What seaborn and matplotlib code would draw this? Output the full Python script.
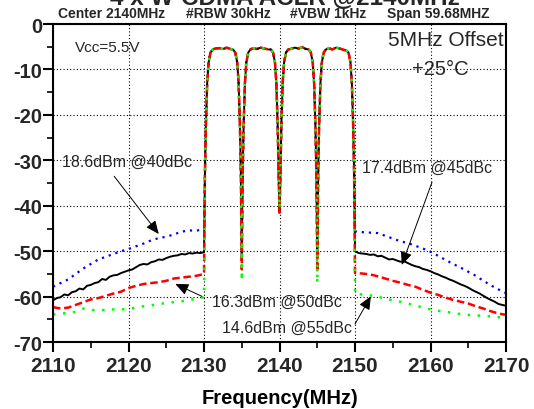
import numpy as np
import pandas as pd
import seaborn as sns
import matplotlib.pyplot as plt
from matplotlib.ticker import MultipleLocator

# lower adjacent band (MHz) and levels (dB)
left_freq = [2110, 2111, 2112, 2113, 2114, 2115, 2116, 2117, 2118, 2119, 2120,
             2121, 2122, 2123, 2124, 2125, 2126, 2127, 2128, 2129, 2130]
right_freq = [2150, 2151, 2152, 2153, 2154, 2155, 2156, 2157, 2158, 2159, 2160,
              2161, 2162, 2163, 2164, 2165, 2166, 2167, 2168, 2169, 2170]

blue_left = [-57.8, -57.0, -56.2, -55.0, -53.8, -52.8, -51.8, -51.2, -50.6, -50.0, -49.5,
             -48.9, -48.3, -47.6, -47.1, -46.8, -46.3, -45.7, -45.4, -45.5, -45.0]
blue_right = [-45.6, -45.8, -45.9, -46.0, -46.6, -47.2, -47.8, -48.2, -48.8, -49.4, -50.1,
              -51.0, -51.9, -52.8, -53.6, -54.5, -55.4, -56.5, -57.5, -58.4, -59.2]
red_left = [-62.3, -62.6, -62.4, -61.8, -61.2, -60.6, -60.3, -59.8, -59.3, -58.9, -58.1,
            -57.6, -57.2, -57.0, -56.8, -56.5, -56.0, -55.8, -55.6, -55.4, -55.0]
red_right = [-54.8, -54.9, -55.1, -55.5, -56.0, -56.5, -56.9, -57.4, -57.8, -58.5, -59.1,
             -59.6, -60.2, -60.7, -61.1, -61.5, -62.1, -62.6, -63.2, -63.7, -64.0]
green_left = [-63.9, -63.7, -63.6, -63.3, -62.6, -62.9, -63.0, -62.9, -62.8, -62.8, -62.7,
              -62.4, -62.1, -61.9, -61.6, -61.4, -61.2, -61.0, -60.8, -60.4, -60.1]
green_right = [-59.4, -59.5, -59.7, -60.0, -60.4, -60.8, -61.1, -61.5, -61.9, -62.4, -62.8,
               -63.1, -63.3, -63.6, -63.8, -64.0, -64.1, -64.2, -64.3, -64.5, -64.7]

# black trace read at 0.5 MHz (it is noisier)
black_left_freq = [2110, 2110.5, 2111, 2111.5, 2112, 2112.5, 2113, 2113.5, 2114, 2114.5,
                   2115, 2115.5, 2116, 2116.5, 2117, 2117.5, 2118, 2118.5, 2119, 2119.5,
                   2120, 2120.5, 2121, 2121.5, 2122, 2122.5, 2123, 2123.5, 2124, 2124.5,
                   2125, 2125.5, 2126, 2126.5, 2127, 2127.5, 2128, 2128.5, 2129, 2129.5, 2130]
black_left = [-60.8, -60.3, -60.1, -59.5, -59.7, -59.0, -58.8, -58.2, -58.4, -57.6,
              -57.4, -57.0, -56.8, -56.1, -56.3, -55.6, -55.3, -55.2, -54.8, -54.5,
              -54.2, -54.0, -53.5, -53.0, -52.8, -52.9, -52.4, -52.2, -51.8, -51.9,
              -51.5, -51.2, -51.0, -50.9, -50.6, -50.7, -50.4, -50.5, -50.3, -50.4, -50.2]
black_right_freq = [2150, 2150.5, 2151, 2151.5, 2152, 2152.5, 2153, 2153.5, 2154, 2154.5,
                    2155, 2155.5, 2156, 2156.5, 2157, 2157.5, 2158, 2158.5, 2159, 2159.5,
                    2160, 2160.5, 2161, 2161.5, 2162, 2162.5, 2163, 2163.5, 2164, 2164.5,
                    2165, 2165.5, 2166, 2166.5, 2167, 2167.5, 2168, 2168.5, 2169, 2169.5, 2170]
black_right = [-50.0, -50.4, -50.5, -50.6, -50.8, -50.7, -51.1, -51.0, -51.4, -51.8,
               -51.7, -52.0, -52.3, -52.2, -52.6, -53.0, -53.3, -53.5, -53.9, -54.1,
               -54.4, -54.8, -55.1, -55.5, -55.8, -56.2, -56.5, -56.9, -57.3, -57.6,
               -58.0, -58.5, -58.9, -59.3, -59.8, -60.3, -60.7, -61.1, -61.6, -61.8, -62.0]

# the four carriers (shared by all traces)
band_freq = [2130.12, 2130.25, 2130.42, 2130.6, 2130.85, 2131.15,
             2131.5, 2132.0, 2132.5, 2133.0, 2133.5,
             2133.85, 2134.15, 2134.4, 2134.58, 2134.75, 2134.88,
             2135.12, 2135.25, 2135.42, 2135.6, 2135.85, 2136.15,
             2136.5, 2137.0, 2137.5, 2138.0, 2138.5,
             2138.85, 2139.15, 2139.4, 2139.58, 2139.75, 2139.88,
             2140.12, 2140.25, 2140.42, 2140.6, 2140.85, 2141.15,
             2141.5, 2142.0, 2142.5, 2143.0, 2143.5,
             2143.85, 2144.15, 2144.4, 2144.58, 2144.75, 2144.88,
             2145.12, 2145.25, 2145.42, 2145.6, 2145.85, 2146.15,
             2146.5, 2147.0, 2147.5, 2148.0, 2148.5,
             2148.85, 2149.15, 2149.4, 2149.58, 2149.75, 2149.88]
band_level = [-33, -22, -13, -8.5, -6.3, -5.6,
              -5.4, -5.3, -5.5, -5.2, -5.5,
              -5.6, -6.3, -8.5, -13, -22, -33,
              -33, -22, -13, -8.5, -6.3, -5.6,
              -5.3, -5.5, -5.2, -5.4, -5.6,
              -5.6, -6.3, -8.5, -13, -22, -33,
              -33, -22, -13, -8.5, -6.3, -5.6,
              -5.5, -5.2, -5.4, -5.1, -5.5,
              -5.6, -6.3, -8.5, -13, -22, -33,
              -33, -22, -13, -8.5, -6.3, -5.6,
              -5.3, -5.6, -5.2, -5.4, -5.7,
              -5.8, -6.3, -8.5, -13, -22, -33]

dip_freq = [2135, 2140, 2145]
blue_dips = [-49.0, -41.0, -49.0]
black_dips = [-50.5, -41.5, -50.5]
red_dips = [-54.0, -41.5, -54.5]
green_dips = [-56.5, -40.5, -57.0]

x_ticks = [2110, 2120, 2130, 2140, 2150, 2160, 2170]
y_ticks = [0, -10, -20, -30, -40, -50, -60, -70]


def trace(lf, ll, dips, rf, rl):
    f = list(lf) + band_freq + dip_freq + list(rf)
    l = list(ll) + band_level + dips + list(rl)
    return pd.DataFrame({'freq': f, 'level': l}).sort_values('freq')


traces = [
    (trace(left_freq, blue_left, blue_dips, right_freq, blue_right), '#0000ff', (0, (1, 2.2)), 1.6),
    (trace(black_left_freq, black_left, black_dips, black_right_freq, black_right), 'black', '-', 1.4),
    (trace(left_freq, red_left, red_dips, right_freq, red_right), '#ff0000', (0, (3, 1.5)), 1.8),
    (trace(left_freq, green_left, green_dips, right_freq, green_right), '#00ff00', (0, (1, 3)), 1.8),
]

sns.set_theme(style='white')
plt.rcParams['font.family'] = ['Liberation Sans', 'DejaVu Sans']
plt.rcParams['axes.unicode_minus'] = False

fig, ax = plt.subplots(figsize=(5.34, 4.10), dpi=100)
fig.subplots_adjust(left=0.0993, right=0.9476, top=0.939, bottom=0.163)

for df, col, ls, lw in traces:
    sns.lineplot(data=df, x='freq', y='level', ax=ax, color=col, linestyle=ls,
                 lw=lw, sort=False, errorbar=None, estimator=None)

ax.set_xlim(2110, 2170)
ax.set_ylim(-70, 0)
ax.set_xticks(x_ticks)
ax.set_xticklabels([str(v) for v in x_ticks], fontsize=15, fontweight='bold')
ax.set_yticks(y_ticks)
ax.set_yticklabels([str(v) for v in y_ticks], fontsize=14.5, fontweight='bold')
ax.xaxis.set_minor_locator(MultipleLocator(5))
ax.yaxis.set_minor_locator(MultipleLocator(5))
ax.grid(True, which='major', color='black', linestyle=(0, (1, 2)), lw=0.8)
ax.set_axisbelow(True)
for s in ax.spines.values():
    s.set_color('black')
    s.set_linewidth(1.5)
ax.tick_params(which='major', direction='out', length=7, width=1.5, color='black',
               bottom=True, left=True)
ax.tick_params(which='minor', direction='out', length=4, width=1.2, color='black',
               bottom=True, left=True)
ax.tick_params(axis='x', pad=3)
ax.tick_params(axis='y', pad=1)
ax.set_xlabel('Frequency(MHz)', fontsize=14.5, fontweight='bold', labelpad=9, color='black')
ax.set_ylabel('')

# header lines (title is cut by the top edge in the source image)
fig.text(0.534, 1 - 5 / 410, '4 x W-CDMA ACLR @2140MHz', ha='center', va='baseline',
         fontsize=17.5, fontweight='bold')
hdr_y = 1 - 18 / 410
for x0, s in [(58, 'Center 2140MHz'), (186, '#RBW 30kHz'), (290, '#VBW 1kHz'), (387, 'Span 59.68MHZ')]:
    fig.text(x0 / 534, hdr_y, s, ha='left', va='baseline', fontsize=10, fontweight='bold')

ax.text(2112.9, -5.1, 'Vcc=5.5V', ha='left', va='center', fontsize=11)
ax.text(2169.7, -3.3, '5MHz Offset', ha='right', va='center', fontsize=15)
ax.text(2161.3, -9.7, '+25°C', ha='center', va='center', fontsize=14.5)

ax.text(2111.2, -30.2, '18.6dBm @40dBc', ha='left', va='center', fontsize=11.5)
ax.text(2150.9, -31.5, '17.4dBm @45dBc', ha='left', va='center', fontsize=11.5)
ax.text(2131.1, -61.0, '16.3dBm @50dBc', ha='left', va='center', fontsize=11.5)
ax.text(2132.4, -66.7, '14.6dBm @55dBc', ha='left', va='center', fontsize=11.5)

arrow = dict(arrowstyle='-|>,head_length=0.8,head_width=0.35', color='black', lw=0.7,
             shrinkA=0, shrinkB=0, mutation_scale=10)
ax.annotate('', xy=(2124.0, -46.2), xytext=(2118.1, -33.5), arrowprops=arrow)
ax.annotate('', xy=(2156.2, -53.0), xytext=(2160.2, -34.8), arrowprops=arrow)
ax.annotate('', xy=(2126.2, -57.2), xytext=(2129.7, -59.9), arrowprops=arrow)
ax.annotate('', xy=(2152.1, -59.9), xytext=(2150.0, -66.0), arrowprops=arrow)

fig.savefig('out.png', dpi=100)
